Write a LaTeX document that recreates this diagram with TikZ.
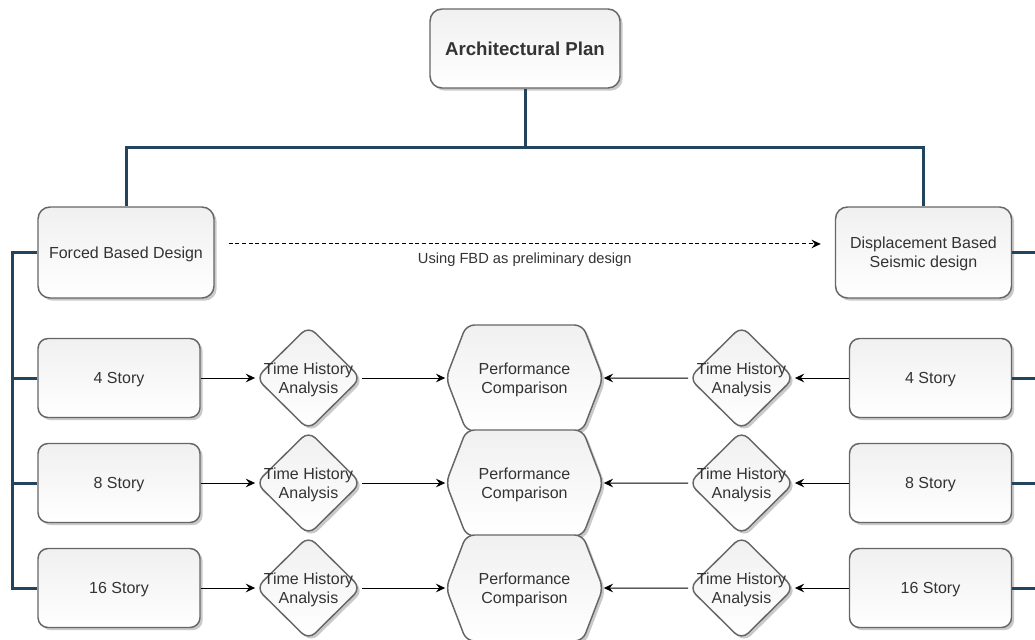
\documentclass[tikz,border=0pt]{standalone}
\usepackage{fontspec}
\setmainfont{Liberation Sans}
\usepackage{xcolor}
\usepackage{tikz}
\usetikzlibrary{shapes.geometric, shapes.symbols, arrows.meta, shadows}
\definecolor{treeblue}{HTML}{23445D}
\definecolor{boxline}{HTML}{666666}
\definecolor{boxtext}{HTML}{333333}
\definecolor{boxtop}{HTML}{F0F0F0}
\tikzstyle{base} = [draw=boxline, line width=1.1pt, top color=boxtop, bottom color=white, text=boxtext, text depth=0pt, drop shadow={shadow xshift=2pt, shadow yshift=-2pt, opacity=0.3, fill=black!70}]
\tikzstyle{plan} = [base, rectangle, rounded corners=9pt, minimum width=142.5pt, minimum height=59.25pt, text centered, font=\fontsize{14}{17}\selectfont\bfseries]
\tikzstyle{design} = [base, rectangle, rounded corners=9pt, minimum width=132pt, minimum height=68.25pt, align=center, font=\fontsize{12}{14.25}\selectfont]
\tikzstyle{story} = [base, rectangle, rounded corners=7.5pt, minimum width=121.5pt, minimum height=59.25pt, text centered, font=\fontsize{12}{14.25}\selectfont]
\tikzstyle{tha} = [base, diamond, rounded corners=7pt, minimum width=79pt, minimum height=78pt, inner sep=0pt]
\tikzstyle{thtext} = [align=center, text=boxtext, text depth=0pt, inner sep=0pt, font=\fontsize{12}{14.25}\selectfont]
\tikzstyle{perf} = [base, signal, signal to=west and east, signal pointer angle=138, rounded corners=6pt, minimum width=117.75pt, minimum height=79.5pt, inner sep=0pt, align=center, font=\fontsize{12}{14.25}\selectfont]
\tikzset{arw/.style={-{Stealth[length=7pt,width=6.5pt,inset=2.5pt]},line width=0.75pt}}
\tikzset{dasharw/.style={-{Stealth[length=7pt,width=6.5pt,inset=2.5pt]},line width=0.75pt,dash pattern=on 3pt off 2pt,shorten <=10.5pt,shorten >=10.5pt}}
\tikzset{tree/.style={draw=treeblue,line width=2.25pt}}

\begin{document}
\begin{tikzpicture}[x=0.75pt, y=-0.75pt, node distance=78.75pt]
	\useasboundingbox (0,0) rectangle (1035,639);
	\node (plan) [plan] at (525,48.5) {Architectural Plan};
	\node (fbd) [design] at (126,252.5) {Forced Based Design};
	\node (dbsd) [design] at (923.5,252.5) {Displacement Based\\Seismic design};
	\node (l4) [story] at (119,378) {4 Story};
	\node (l8) [story, below of = l4] {8 Story};
	\node (l16) [story, below of = l8] {16 Story};
	\node (ld4) [tha, label={[thtext]center:Time History\\Analysis}] at (308.5,378) {};
	\node (ld8) [tha, below of = ld4, label={[thtext]center:Time History\\Analysis}] {};
	\node (ld16) [tha, below of = ld8, label={[thtext]center:Time History\\Analysis}] {};
	\node (pc4) [perf] at (524.5,378) {Performance\\Comparison};
	\node (pc8) [perf, below of = pc4] {Performance\\Comparison};
	\node (pc16) [perf, below of = pc8] {Performance\\Comparison};
	\node (rd4) [tha, label={[thtext]center:Time History\\Analysis}] at (741.5,378) {};
	\node (rd8) [tha, below of = rd4, label={[thtext]center:Time History\\Analysis}] {};
	\node (rd16) [tha, below of = rd8, label={[thtext]center:Time History\\Analysis}] {};
	\node (r4) [story] at (930.5,378) {4 Story};
	\node (r8) [story, below of = r4] {8 Story};
	\node (r16) [story, below of = r8] {16 Story};
	\coordinate (split) at (525,147);
	\coordinate (lbus) at (12,252.5);
	\coordinate (rbus) at (1035,252.5);
	
	\draw [tree] (plan) -- (split) -| (fbd);
	\draw [tree] (split) -| (dbsd);
	\draw [tree] (fbd) -- (lbus) |- (l16);
	\draw [tree] (lbus |- l4) -- (l4);
	\draw [tree] (lbus |- l8) -- (l8);
	\draw [tree] (dbsd) -- (rbus);
	\draw [tree] (r4) -- (rbus |- r4);
	\draw [tree] (r8) -- (rbus |- r8);
	\draw [tree] (r16) -- (rbus |- r16);
	\draw [dasharw] ([yshift=6.4pt]fbd.east) -- node [below=5.5pt, inner sep=1pt, text=boxtext, font=\fontsize{11}{13}\selectfont] {Using FBD as preliminary design} ([yshift=6.4pt]dbsd.west);
	\draw [arw] (l4) -- (ld4);
	\draw [arw] (l8) -- (ld8);
	\draw [arw] (l16) -- (ld16);
	\draw [arw] (ld4) -- (pc4);
	\draw [arw] (ld8) -- (pc8);
	\draw [arw] (ld16) -- (pc16);
	\draw [arw] (r4) -- (rd4);
	\draw [arw] (r8) -- (rd8);
	\draw [arw] (r16) -- (rd16);
	\draw [arw] (rd4) -- (pc4);
	\draw [arw] (rd8) -- (pc8);
	\draw [arw] (rd16) -- (pc16);
\end{tikzpicture}
\end{document}
